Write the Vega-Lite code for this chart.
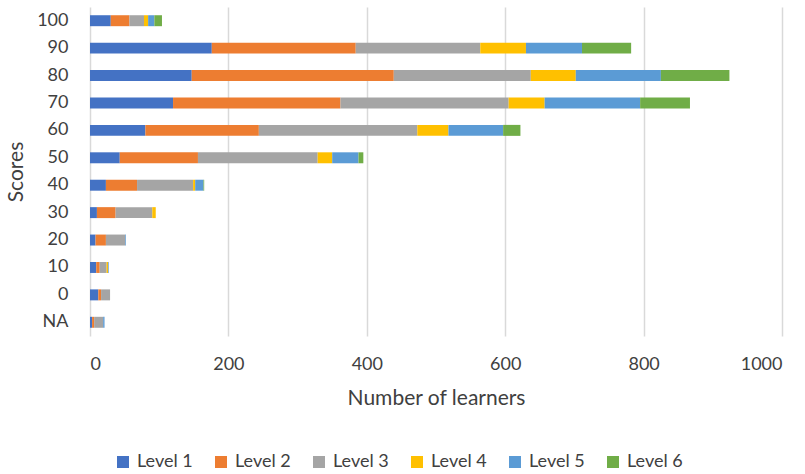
{
  "$schema": "https://vega.github.io/schema/vega-lite/v6.json",
  "autosize": {"type": "none"},
  "width": 692,
  "height": 329,
  "padding": {"left": 90, "top": 7, "right": 23, "bottom": 138},
  "background": "white",
  "config": {
    "font": "Lato",
    "view": {"stroke": null}
  },
  "data": {
    "values": [
      {"score": "100", "level": "Level 1", "learners": 30},
      {"score": "100", "level": "Level 2", "learners": 27},
      {"score": "100", "level": "Level 3", "learners": 21},
      {"score": "100", "level": "Level 4", "learners": 6},
      {"score": "100", "level": "Level 5", "learners": 9},
      {"score": "100", "level": "Level 6", "learners": 11},
      {"score": "90", "level": "Level 1", "learners": 176},
      {"score": "90", "level": "Level 2", "learners": 208},
      {"score": "90", "level": "Level 3", "learners": 180},
      {"score": "90", "level": "Level 4", "learners": 66},
      {"score": "90", "level": "Level 5", "learners": 81},
      {"score": "90", "level": "Level 6", "learners": 71},
      {"score": "80", "level": "Level 1", "learners": 147},
      {"score": "80", "level": "Level 2", "learners": 292},
      {"score": "80", "level": "Level 3", "learners": 198},
      {"score": "80", "level": "Level 4", "learners": 65},
      {"score": "80", "level": "Level 5", "learners": 123},
      {"score": "80", "level": "Level 6", "learners": 99},
      {"score": "70", "level": "Level 1", "learners": 120},
      {"score": "70", "level": "Level 2", "learners": 242},
      {"score": "70", "level": "Level 3", "learners": 243},
      {"score": "70", "level": "Level 4", "learners": 52},
      {"score": "70", "level": "Level 5", "learners": 138},
      {"score": "70", "level": "Level 6", "learners": 72},
      {"score": "60", "level": "Level 1", "learners": 80},
      {"score": "60", "level": "Level 2", "learners": 164},
      {"score": "60", "level": "Level 3", "learners": 229},
      {"score": "60", "level": "Level 4", "learners": 45},
      {"score": "60", "level": "Level 5", "learners": 79},
      {"score": "60", "level": "Level 6", "learners": 25},
      {"score": "50", "level": "Level 1", "learners": 43},
      {"score": "50", "level": "Level 2", "learners": 113},
      {"score": "50", "level": "Level 3", "learners": 173},
      {"score": "50", "level": "Level 4", "learners": 21},
      {"score": "50", "level": "Level 5", "learners": 38},
      {"score": "50", "level": "Level 6", "learners": 7},
      {"score": "40", "level": "Level 1", "learners": 23},
      {"score": "40", "level": "Level 2", "learners": 45},
      {"score": "40", "level": "Level 3", "learners": 81},
      {"score": "40", "level": "Level 4", "learners": 3},
      {"score": "40", "level": "Level 5", "learners": 12},
      {"score": "40", "level": "Level 6", "learners": 1},
      {"score": "30", "level": "Level 1", "learners": 10},
      {"score": "30", "level": "Level 2", "learners": 27},
      {"score": "30", "level": "Level 3", "learners": 53},
      {"score": "30", "level": "Level 4", "learners": 5},
      {"score": "20", "level": "Level 1", "learners": 8},
      {"score": "20", "level": "Level 2", "learners": 15},
      {"score": "20", "level": "Level 3", "learners": 28},
      {"score": "20", "level": "Level 5", "learners": 1},
      {"score": "10", "level": "Level 1", "learners": 9},
      {"score": "10", "level": "Level 2", "learners": 5},
      {"score": "10", "level": "Level 3", "learners": 10},
      {"score": "10", "level": "Level 4", "learners": 2},
      {"score": "10", "level": "Level 5", "learners": 1},
      {"score": "0", "level": "Level 1", "learners": 12},
      {"score": "0", "level": "Level 2", "learners": 4},
      {"score": "0", "level": "Level 3", "learners": 13},
      {"score": "NA", "level": "Level 1", "learners": 3},
      {"score": "NA", "level": "Level 2", "learners": 3},
      {"score": "NA", "level": "Level 3", "learners": 13},
      {"score": "NA", "level": "Level 5", "learners": 2}
    ]
  },
  "mark": {"type": "bar"},
  "encoding": {
    "y": {
      "field": "score",
      "type": "nominal",
      "sort": ["100", "90", "80", "70", "60", "50", "40", "30", "20", "10", "0", "NA"],
      "scale": {"paddingInner": 0.6, "paddingOuter": 0.3},
      "axis": {
        "title": "Scores",
        "titleFontSize": 21,
        "titleFontWeight": "normal",
        "titleColor": "#404040",
        "titlePadding": 10,
        "labelFontSize": 18,
        "labelColor": "#404040",
        "labelPadding": 22,
        "domain": false,
        "ticks": false
      }
    },
    "x": {
      "field": "learners",
      "type": "quantitative",
      "aggregate": "sum",
      "stack": "zero",
      "scale": {"domain": [0, 1000], "nice": false},
      "axis": {
        "title": "Number of learners",
        "titleFontSize": 21,
        "titleFontWeight": "normal",
        "titleColor": "#404040",
        "titlePadding": 14,
        "labelFontSize": 18,
        "labelColor": "#404040",
        "labelPadding": 19,
        "format": "d",
        "values": [0, 200, 400, 600, 800, 1000],
        "domain": false,
        "ticks": false,
        "gridColor": "#d9d9d9",
        "gridWidth": 1.5
      }
    },
    "color": {
      "field": "level",
      "type": "nominal",
      "scale": {
        "domain": ["Level 1", "Level 2", "Level 3", "Level 4", "Level 5", "Level 6"],
        "range": ["#4472C4", "#ED7D31", "#A5A5A5", "#FFC000", "#5B9BD5", "#70AD47"]
      },
      "legend": {
        "title": null,
        "orient": "none",
        "direction": "horizontal",
        "legendX": 24,
        "legendY": 446,
        "columns": 6,
        "columnPadding": 19,
        "symbolType": "square",
        "symbolSize": 144,
        "symbolStrokeWidth": 0,
        "labelFontSize": 18,
        "labelColor": "#404040",
        "labelOffset": 5
      }
    },
    "order": {"field": "level", "sort": "ascending"}
  }
}
